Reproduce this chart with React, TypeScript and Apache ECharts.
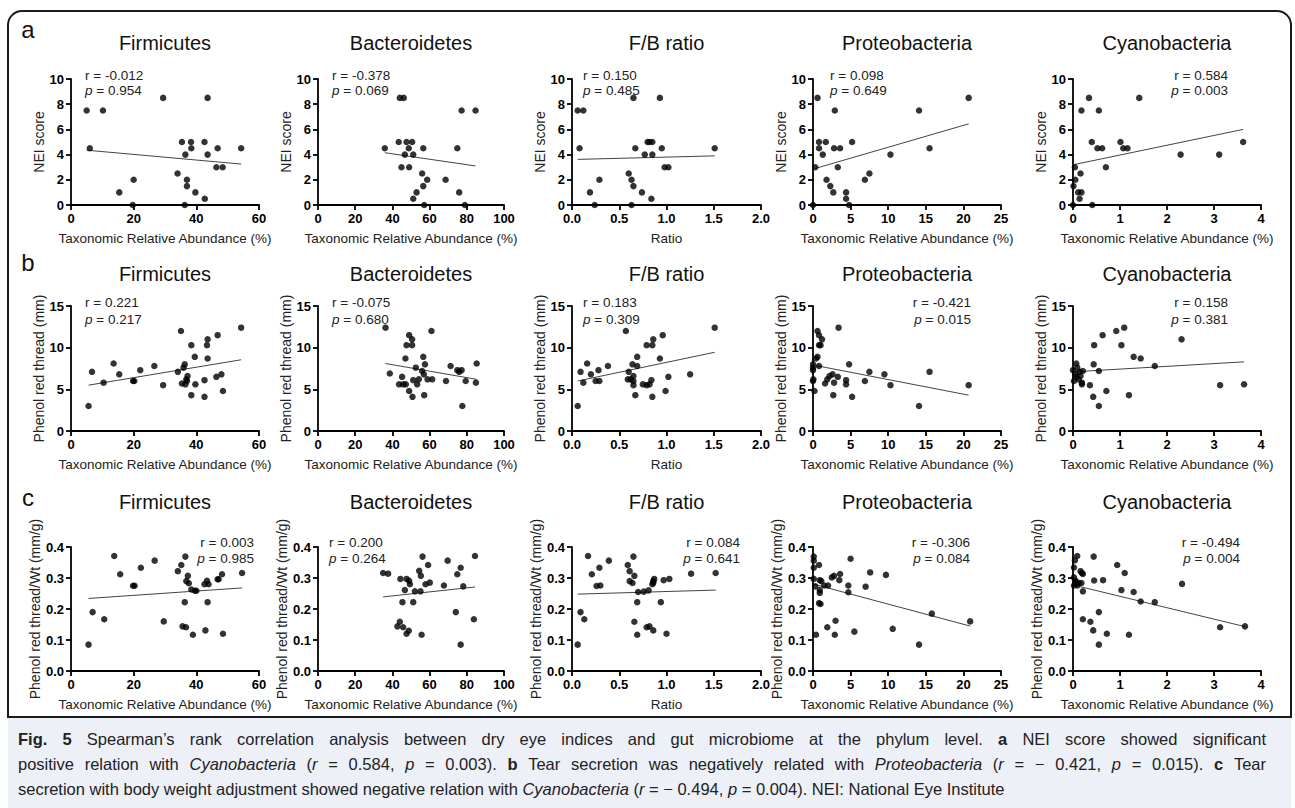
import React, { useEffect, useRef } from "react";
import * as echarts from "echarts";

type P = [number, number];

// ---------- labels ----------
const columnTitles = ["Firmicutes", "Bacteroidetes", "F/B ratio", "Proteobacteria", "Cyanobacteria"];
const xAxisTitles = [
  "Taxonomic Relative Abundance (%)",
  "Taxonomic Relative Abundance (%)",
  "Ratio",
  "Taxonomic Relative Abundance (%)",
  "Taxonomic Relative Abundance (%)",
];
const xMaxes = [60, 100, 2, 25, 4];
const xIntervals = [20, 20, 0.5, 5, 1];
const xDecimals = [0, 0, 1, 0, 0];
const rowLetters = ["a", "b", "c"];
const yAxisTitles = ["NEI score", "Phenol red thread (mm)", "Phenol red thread/Wt (mm/g)"];
const yMaxes = [10, 15, 0.4];
const yIntervals = [2, 5, 0.1];
const yDecimals = [0, 0, 1];

const rValues = [
  ["-0.012", "-0.378", "0.150", "0.098", "0.584"],
  ["0.221", "-0.075", "0.183", "-0.421", "0.158"],
  ["0.003", "0.200", "0.084", "-0.306", "-0.494"],
];
const pValues = [
  ["0.954", "0.069", "0.485", "0.649", "0.003"],
  ["0.217", "0.680", "0.309", "0.015", "0.381"],
  ["0.985", "0.264", "0.641", "0.084", "0.004"],
];

// ---------- row a: NEI score ----------
const neiFirmicutes: P[] = [[5,7.5],[6,4.5],[10.2,7.5],[15.4,1],[19.7,0],[20,2],[29.4,8.5],[34,2.5],[35.4,5],[36.5,4],[36.3,0],[37,2],[37,1.5],[38.3,5],[38.4,4.5],[39.7,1],[42.6,5],[42.7,0.5],[43.6,8.5],[43.6,4],[46.8,4.5],[46.4,3],[48.4,3],[54.3,4.5]];
const neiFirmicutesFit: P[] = [[5, 4.35], [54.3, 3.25]];
const neiBacteroidetes: P[] = [[35.9,4.5],[43.4,5],[44,8.5],[46.1,8.5],[44.9,3],[46.7,4],[47.6,5],[48.8,4.5],[49,3],[50.6,5],[51.2,4],[51.2,0.5],[53,1],[56,2.5],[56.6,4.5],[56.6,1.5],[57.1,0],[58.7,2],[68.6,2],[74.9,4.5],[75.9,1],[77.2,7.5],[79,0],[84.7,7.5]];
const neiBacteroidetesFit: P[] = [[35.9, 4.15], [84.7, 3.1]];
const neiFB: P[] = [[0.06,7.5],[0.12,7.5],[0.08,4.5],[0.19,1],[0.24,0],[0.29,2],[0.6,2.5],[0.63,2],[0.65,1.5],[0.63,0],[0.65,8.5],[0.67,4.5],[0.74,1],[0.77,4],[0.8,5],[0.82,5],[0.85,5],[0.84,0.5],[0.85,4],[0.93,8.5],[0.95,4.5],[0.98,3],[1.02,3],[1.51,4.5]];
const neiFBFit: P[] = [[0.06, 3.62], [1.51, 3.9]];
const neiProteobacteria: P[] = [[0,0],[0.3,3],[0.6,8.5],[0.8,5],[0.8,4.5],[1.3,4],[1.7,5],[1.8,2],[2.3,1.5],[2.7,1],[2.8,4.5],[2.9,7.5],[3.3,3],[3.6,4.5],[4.4,1],[4.4,0.5],[4.8,0],[5.2,5],[6.9,2],[7.5,2.5],[10.3,4],[14.1,7.5],[15.5,4.5],[20.7,8.5]];
const neiProteobacteriaFit: P[] = [[0.3, 2.9], [20.7, 6.44]];
const neiCyanobacteria: P[] = [[0,0],[0.01,1.5],[0.04,3],[0.05,2],[0.11,1],[0.14,0.5],[0.16,2.5],[0.18,1],[0.18,7.5],[0.34,8.5],[0.4,5],[0.41,0],[0.52,4.5],[0.55,7.5],[0.62,4.5],[0.7,3],[1.01,5],[1.07,4.5],[1.16,4.5],[1.41,8.5],[2.29,4],[3.11,4],[3.62,5]];
const neiCyanobacteriaFit: P[] = [[0, 3.19], [3.62, 6.0]];

// ---------- row b: phenol red thread ----------
const prtFirmicutes: P[] = [[5.6,3],[6.7,7.1],[10.4,5.8],[13.6,8.1],[15.4,6.8],[19.8,6],[20.2,6],[22.1,7.3],[26.6,7.8],[29.4,5.5],[34.1,7.1],[35.1,12],[35.4,5.7],[35.9,7.6],[36.3,8],[36.5,5.6],[36.8,6.2],[37.2,6.6],[37,6],[38.4,10.3],[38.4,4.3],[39.5,8.9],[39.7,5.6],[42.6,6.1],[42.6,4.1],[43.4,10.3],[43.6,11],[43.6,8.7],[46.4,6.5],[46.8,11.5],[48,6.8],[48.5,4.8],[54.3,12.4]];
const prtFirmicutesFit: P[] = [[5.6, 5.5], [54.3, 8.55]];
const prtBacteroidetes: P[] = [[38.6,6.9],[36.3,12.4],[43.6,5.6],[45.2,6.5],[45.8,5.6],[47,8.7],[47.2,5.6],[47.6,10.3],[49,11.5],[49,4.8],[50.6,11],[50.6,10.3],[50.8,4.1],[51.2,6.1],[52.6,7.6],[53.3,5.6],[54.2,6.2],[56,7.2],[56.6,8.9],[56.9,6.8],[57.1,4.3],[57.5,8],[58.9,6.2],[61,12],[61.4,6.2],[68.8,6],[71.3,7.8],[74.9,7.3],[75.9,7.1],[77.2,7.3],[77.6,3],[79.4,6],[85.3,8.1],[84.9,5.8]];
const prtBacteroidetesFit: P[] = [[36.3, 8.1], [85.3, 6.2]];
const prtFB: P[] = [[0.06,3],[0.09,7.1],[0.12,5.8],[0.16,8.1],[0.2,6.8],[0.25,6],[0.29,6],[0.28,7.3],[0.38,7.8],[0.57,12],[0.6,7.1],[0.59,6.2],[0.62,6.2],[0.64,8],[0.65,6.6],[0.65,5.5],[0.67,4.3],[0.69,7.8],[0.69,8.9],[0.65,6],[0.75,5.6],[0.79,10.3],[0.79,5.5],[0.82,5.6],[0.84,6.1],[0.85,4.1],[0.85,10.3],[0.86,11],[0.93,8.7],[0.96,11.5],[0.99,4.8],[1.02,6.5],[1.25,6.8],[1.51,12.4]];
const prtFBFit: P[] = [[0.06, 6.0], [1.51, 9.45]];
const prtProteobacteria: P[] = [[0,8],[0,7.6],[0,7.3],[0.05,6.2],[0,6],[0.2,4.8],[0.4,8.7],[0.6,8.9],[0.6,12],[0.8,11.5],[0.8,10.3],[1,10.3],[0.8,7.8],[1.2,11],[1.6,5.7],[1.9,6.2],[2.2,6.6],[2.6,6.8],[2.7,4.3],[2.8,5.8],[3.3,6.5],[3.4,12.4],[4.4,6.1],[4.4,5.6],[4.8,8],[5.2,4.1],[6.9,6],[7.5,7.1],[9.5,6.8],[10.3,5.5],[14.1,3],[15.5,7.1],[20.7,5.5]];
const prtProteobacteriaFit: P[] = [[0.4, 7.85], [20.7, 4.3]];
const prtCyanobacteria: P[] = [[0,7.3],[0.02,6],[0.05,6.8],[0.07,8.1],[0.07,6.5],[0.09,7.6],[0.12,6.2],[0.14,7.1],[0.16,6.6],[0.19,5.8],[0.19,5.6],[0.21,7.2],[0.36,5.5],[0.43,4.1],[0.44,8],[0.45,10.3],[0.55,7.2],[0.55,3],[0.63,11.5],[0.71,4.8],[0.92,12],[1.03,10.3],[1.09,12.4],[1.19,4.3],[1.29,8.9],[1.44,8.7],[1.74,7.8],[2.31,11],[3.13,5.5],[3.64,5.6]];
const prtCyanobacteriaFit: P[] = [[0, 7.1], [3.64, 8.3]];

// ---------- row c: phenol red thread / weight ----------
const wtFirmicutes: P[] = [[5.6,0.085],[6.9,0.19],[10.6,0.167],[13.8,0.371],[15.7,0.312],[19.8,0.275],[20.3,0.275],[22.3,0.333],[26.7,0.356],[29.6,0.16],[34.1,0.322],[35.2,0.342],[36.5,0.369],[35.6,0.144],[36.7,0.141],[36.3,0.222],[36.8,0.29],[37.3,0.307],[37.6,0.283],[38.4,0.263],[38.9,0.117],[39.5,0.259],[40,0.259],[42.6,0.28],[42.9,0.131],[43.4,0.291],[43.6,0.222],[43.9,0.28],[46.8,0.296],[47.1,0.296],[48.2,0.312],[48.5,0.12],[54.6,0.316]];
const wtFirmicutesFit: P[] = [[5.6, 0.234], [54.6, 0.268]];
const wtBacteroidetes: P[] = [[35,0.316],[37.7,0.314],[44.3,0.297],[42.7,0.144],[44,0.159],[45.4,0.222],[45.8,0.141],[46.7,0.261],[47.6,0.297],[47.6,0.12],[49,0.291],[49.4,0.28],[48.8,0.13],[51.2,0.222],[52.1,0.257],[54.4,0.323],[55.1,0.257],[55.3,0.307],[55.7,0.117],[56.2,0.369],[57.8,0.28],[59.2,0.342],[60.1,0.285],[67.7,0.276],[69.7,0.356],[74.1,0.19],[74.9,0.312],[76.7,0.333],[78.1,0.273],[76.7,0.085],[83.8,0.167],[84.4,0.371]];
const wtBacteroidetesFit: P[] = [[35, 0.239], [84.4, 0.271]];
const wtFB: P[] = [[0.06,0.085],[0.09,0.19],[0.13,0.167],[0.17,0.371],[0.21,0.312],[0.26,0.274],[0.3,0.276],[0.29,0.333],[0.39,0.356],[0.59,0.342],[0.61,0.322],[0.65,0.369],[0.61,0.29],[0.64,0.284],[0.66,0.307],[0.66,0.159],[0.69,0.117],[0.69,0.222],[0.7,0.255],[0.76,0.256],[0.81,0.26],[0.79,0.141],[0.82,0.144],[0.86,0.131],[0.85,0.28],[0.86,0.29],[0.87,0.297],[0.86,0.285],[0.94,0.222],[0.97,0.293],[1.0,0.12],[1.03,0.297],[1.26,0.314],[1.52,0.316]];
const wtFBFit: P[] = [[0.06, 0.248], [1.52, 0.261]];
const wtProteobacteria: P[] = [[0.1,0.369],[0.1,0.356],[0.1,0.333],[0.8,0.342],[0.1,0.297],[0.3,0.273],[0.4,0.117],[0.9,0.293],[1.1,0.29],[0.9,0.261],[0.9,0.252],[0.8,0.219],[1.0,0.216],[1.5,0.276],[2.0,0.276],[1.9,0.141],[2.5,0.302],[2.8,0.307],[3.0,0.162],[2.9,0.117],[3.6,0.313],[3.5,0.293],[4.7,0.276],[4.7,0.254],[5.0,0.362],[5.5,0.127],[7.0,0.272],[7.6,0.318],[9.7,0.31],[10.6,0.136],[14.1,0.085],[15.8,0.185],[20.9,0.16]];
const wtProteobacteriaFit: P[] = [[0.1, 0.28], [20.9, 0.145]];
const wtCyanobacteria: P[] = [[0.04,0.357],[0.09,0.371],[0.02,0.334],[0.02,0.302],[0.05,0.292],[0.02,0.276],[0.09,0.276],[0.07,0.286],[0.12,0.284],[0.16,0.322],[0.19,0.316],[0.21,0.313],[0.18,0.284],[0.21,0.257],[0.21,0.167],[0.37,0.159],[0.44,0.369],[0.45,0.292],[0.43,0.131],[0.55,0.19],[0.55,0.085],[0.64,0.293],[0.72,0.12],[0.94,0.342],[1.03,0.261],[1.1,0.316],[1.19,0.117],[1.29,0.255],[1.44,0.224],[1.74,0.222],[2.32,0.281],[3.13,0.141],[3.66,0.144]];
const wtCyanobacteriaFit: P[] = [[0.02, 0.277], [3.66, 0.143]];

const panelPoints: P[][][] = [
  [neiFirmicutes, neiBacteroidetes, neiFB, neiProteobacteria, neiCyanobacteria],
  [prtFirmicutes, prtBacteroidetes, prtFB, prtProteobacteria, prtCyanobacteria],
  [wtFirmicutes, wtBacteroidetes, wtFB, wtProteobacteria, wtCyanobacteria],
];
const panelFits: P[][][] = [
  [neiFirmicutesFit, neiBacteroidetesFit, neiFBFit, neiProteobacteriaFit, neiCyanobacteriaFit],
  [prtFirmicutesFit, prtBacteroidetesFit, prtFBFit, prtProteobacteriaFit, prtCyanobacteriaFit],
  [wtFirmicutesFit, wtBacteroidetesFit, wtFBFit, wtProteobacteriaFit, wtCyanobacteriaFit],
];

const captionLines = [
  "{b|Fig. 5} Spearman’s rank correlation analysis between dry eye indices and gut microbiome at the phylum level. {b|a} NEI score showed significant",
  "positive relation with {i|Cyanobacteria} ({i|r} = 0.584, {i|p} = 0.003). {b|b} Tear secretion was negatively related with {i|Proteobacteria} ({i|r} = − 0.421, {i|p} = 0.015). {b|c} Tear",
  "secretion with body weight adjustment showed negative relation with {i|Cyanobacteria} ({i|r} = − 0.494, {i|p} = 0.004). NEI: National Eye Institute",
];
const captionJustified = [true, true, false];

// ---------- layout (pixels) ----------
const gridLefts = [71, 318, 572, 813, 1073];
const gridWidths = [188, 186, 189, 188, 188];
const gridTops = [79, 306, 547];
const gridHeights = [126, 125, 124];
const titleYs = [43, 274, 502];
const letterYs = [29, 262, 497];
const statYs = [[75, 90], [302, 319], [542, 558]];
const statAnchors: { x: number; align: "left" | "right" }[][] = [
  [{ x: 85, align: "left" }, { x: 332, align: "left" }, { x: 583, align: "left" }, { x: 830, align: "left" }, { x: 1228, align: "right" }],
  [{ x: 85, align: "left" }, { x: 332, align: "left" }, { x: 583, align: "left" }, { x: 971, align: "right" }, { x: 1228, align: "right" }],
  [{ x: 254, align: "right" }, { x: 329, align: "left" }, { x: 740, align: "right" }, { x: 970, align: "right" }, { x: 1240, align: "right" }],
];
const captionLeft = 18;
const captionRight = 1266;
const captionYs = [739, 764, 789];
const CAPTION_SIZE = 16.5;

const FONT = "'Liberation Sans', Arial, Helvetica, sans-serif";
const CAPTION_FONT = "'Liberation Sans', Arial, sans-serif";

type Piece = { text: string; kind: string };

function parsePieces(s: string): Piece[] {
  const out: Piece[] = [];
  const re = /\{(\w)\|([^}]*)\}|([^{]+)/g;
  let m: RegExpExecArray | null;
  while ((m = re.exec(s))) {
    if (m[1]) out.push({ text: m[2], kind: m[1] });
    else out.push({ text: m[3], kind: "n" });
  }
  return out;
}

function splitWords(line: string): Piece[][] {
  const words: Piece[][] = [[]];
  parsePieces(line).forEach((p) => {
    p.text.split(" ").forEach((t, idx) => {
      if (idx > 0) words.push([]);
      if (t) words[words.length - 1].push({ text: t, kind: p.kind });
    });
  });
  return words.filter((w) => w.length > 0);
}

function fontFor(kind: string, size: number) {
  const pre = kind === "b" ? "bold " : kind === "i" ? "italic " : "";
  return `${pre}${size}px ${CAPTION_FONT}`;
}

function captionGraphics(): any[] {
  const canvas = document.createElement("canvas");
  const ctx = canvas.getContext("2d") as CanvasRenderingContext2D;
  const measure = (pieces: Piece[]) =>
    pieces.reduce((s, p) => {
      ctx.font = fontFor(p.kind, CAPTION_SIZE);
      return s + ctx.measureText(p.text).width;
    }, 0);
  ctx.font = fontFor("n", CAPTION_SIZE);
  const spaceW = ctx.measureText(" ").width;
  const els: any[] = [];
  const rich = {
    b: { fontWeight: "bold", fontSize: CAPTION_SIZE, fontFamily: CAPTION_FONT, fill: "#222" },
    i: { fontStyle: "italic", fontSize: CAPTION_SIZE, fontFamily: CAPTION_FONT, fill: "#222" },
  };
  captionLines.forEach((line, k) => {
    const words = splitWords(line);
    const widths = words.map((w) => measure(w));
    const total = widths.reduce((a, b) => a + b, 0);
    const gap =
      captionJustified[k] && words.length > 1
        ? (captionRight - captionLeft - total) / (words.length - 1)
        : spaceW;
    let x = captionLeft;
    words.forEach((w, j) => {
      const markup = w.map((p) => (p.kind === "n" ? p.text : `{${p.kind}|${p.text}}`)).join("");
      els.push({
        type: "text",
        x,
        y: captionYs[k],
        z: 3,
        style: {
          text: markup,
          font: `${CAPTION_SIZE}px ${CAPTION_FONT}`,
          fill: "#222",
          align: "left",
          verticalAlign: "middle",
          rich,
        },
      });
      x += widths[j] + gap;
    });
  });
  return els;
}

function buildOption() {
  const grid: any[] = [];
  const xAxis: any[] = [];
  const yAxis: any[] = [];
  const series: any[] = [];
  const graphic: any[] = [];

  graphic.push({
    type: "rect",
    z: 0,
    shape: { x: 8, y: 717, width: 1283, height: 95 },
    style: { fill: "#eef0f8" },
  });
  graphic.push({
    type: "rect",
    z: 1,
    shape: { x: 8, y: 11, width: 1283, height: 706, r: [14, 14, 0, 0] },
    style: { fill: "none", stroke: "#1a1a1a", lineWidth: 2 },
  });

  for (let r = 0; r < 3; r++) {
    graphic.push({
      type: "text",
      x: 28,
      y: letterYs[r],
      style: { text: rowLetters[r], font: `24px ${FONT}`, fill: "#111", align: "center", verticalAlign: "middle" },
    });
    for (let c = 0; c < 5; c++) {
      const i = r * 5 + c;
      grid.push({ left: gridLefts[c], top: gridTops[r], width: gridWidths[c], height: gridHeights[r], containLabel: false });
      const axisCommon = {
        type: "value",
        gridIndex: i,
        min: 0,
        splitLine: { show: false },
        axisLine: { show: true, onZero: false, lineStyle: { color: "#000", width: 1.8 } },
        axisTick: { show: true, length: 5, lineStyle: { color: "#000", width: 1.8 } },
        nameTextStyle: { fontSize: 13.5, color: "#222", fontFamily: FONT },
      };
      xAxis.push({
        ...axisCommon,
        max: xMaxes[c],
        interval: xIntervals[c],
        name: xAxisTitles[c],
        nameLocation: "middle",
        nameGap: 26,
        axisLabel: {
          fontSize: 13,
          fontWeight: "bold",
          color: "#000",
          fontFamily: FONT,
          margin: 7,
          formatter: (v: number) => v.toFixed(xDecimals[c]),
        },
      });
      yAxis.push({
        ...axisCommon,
        max: yMaxes[r],
        interval: yIntervals[r],
        name: yAxisTitles[r],
        nameLocation: "middle",
        nameGap: 22,
        nameTextStyle: { fontSize: 14, color: "#222", fontFamily: FONT },
        axisLabel: {
          fontSize: 13,
          fontWeight: "bold",
          color: "#000",
          fontFamily: FONT,
          margin: 7,
          formatter: (v: number) => v.toFixed(yDecimals[r]),
        },
      });
      series.push({
        type: "line",
        xAxisIndex: i,
        yAxisIndex: i,
        data: panelFits[r][c],
        symbol: "none",
        z: 1,
        lineStyle: { color: "#444", width: 1 },
        silent: true,
      });
      series.push({
        type: "scatter",
        xAxisIndex: i,
        yAxisIndex: i,
        data: panelPoints[r][c],
        symbolSize: 6.5,
        clip: false,
        z: 2,
        itemStyle: { color: "#000" },
      });
      graphic.push({
        type: "text",
        x: gridLefts[c] + gridWidths[c] / 2,
        y: titleYs[r],
        style: { text: columnTitles[c], font: `20px ${FONT}`, fill: "#111", align: "center", verticalAlign: "middle" },
      });
      const a = statAnchors[r][c];
      graphic.push({
        type: "text",
        x: a.x,
        y: statYs[r][0],
        style: { text: `r = ${rValues[r][c]}`, font: `13.5px ${FONT}`, fill: "#222", align: a.align, verticalAlign: "middle" },
      });
      graphic.push({
        type: "text",
        x: a.x,
        y: statYs[r][1],
        style: {
          text: `{i|p} = ${pValues[r][c]}`,
          font: `13.5px ${FONT}`,
          fill: "#222",
          align: a.align,
          verticalAlign: "middle",
          rich: { i: { fontStyle: "italic", fontSize: 13.5, fontFamily: FONT, fill: "#222" } },
        },
      });
    }
  }

  graphic.push(...captionGraphics());

  return { animation: false, backgroundColor: "#ffffff", grid, xAxis, yAxis, series, graphic };
}

export default function App() {
  const ref = useRef<HTMLDivElement>(null);
  useEffect(() => {
    if (!ref.current) return;
    const chart = echarts.init(ref.current, undefined, { renderer: "svg" });
    chart.setOption(buildOption() as any);
    return () => chart.dispose();
  }, []);
  return (
    <div
      ref={ref}
      style={{ position: "absolute", left: 0, top: 0, width: 1295, height: 808, background: "#fff" }}
    />
  );
}
